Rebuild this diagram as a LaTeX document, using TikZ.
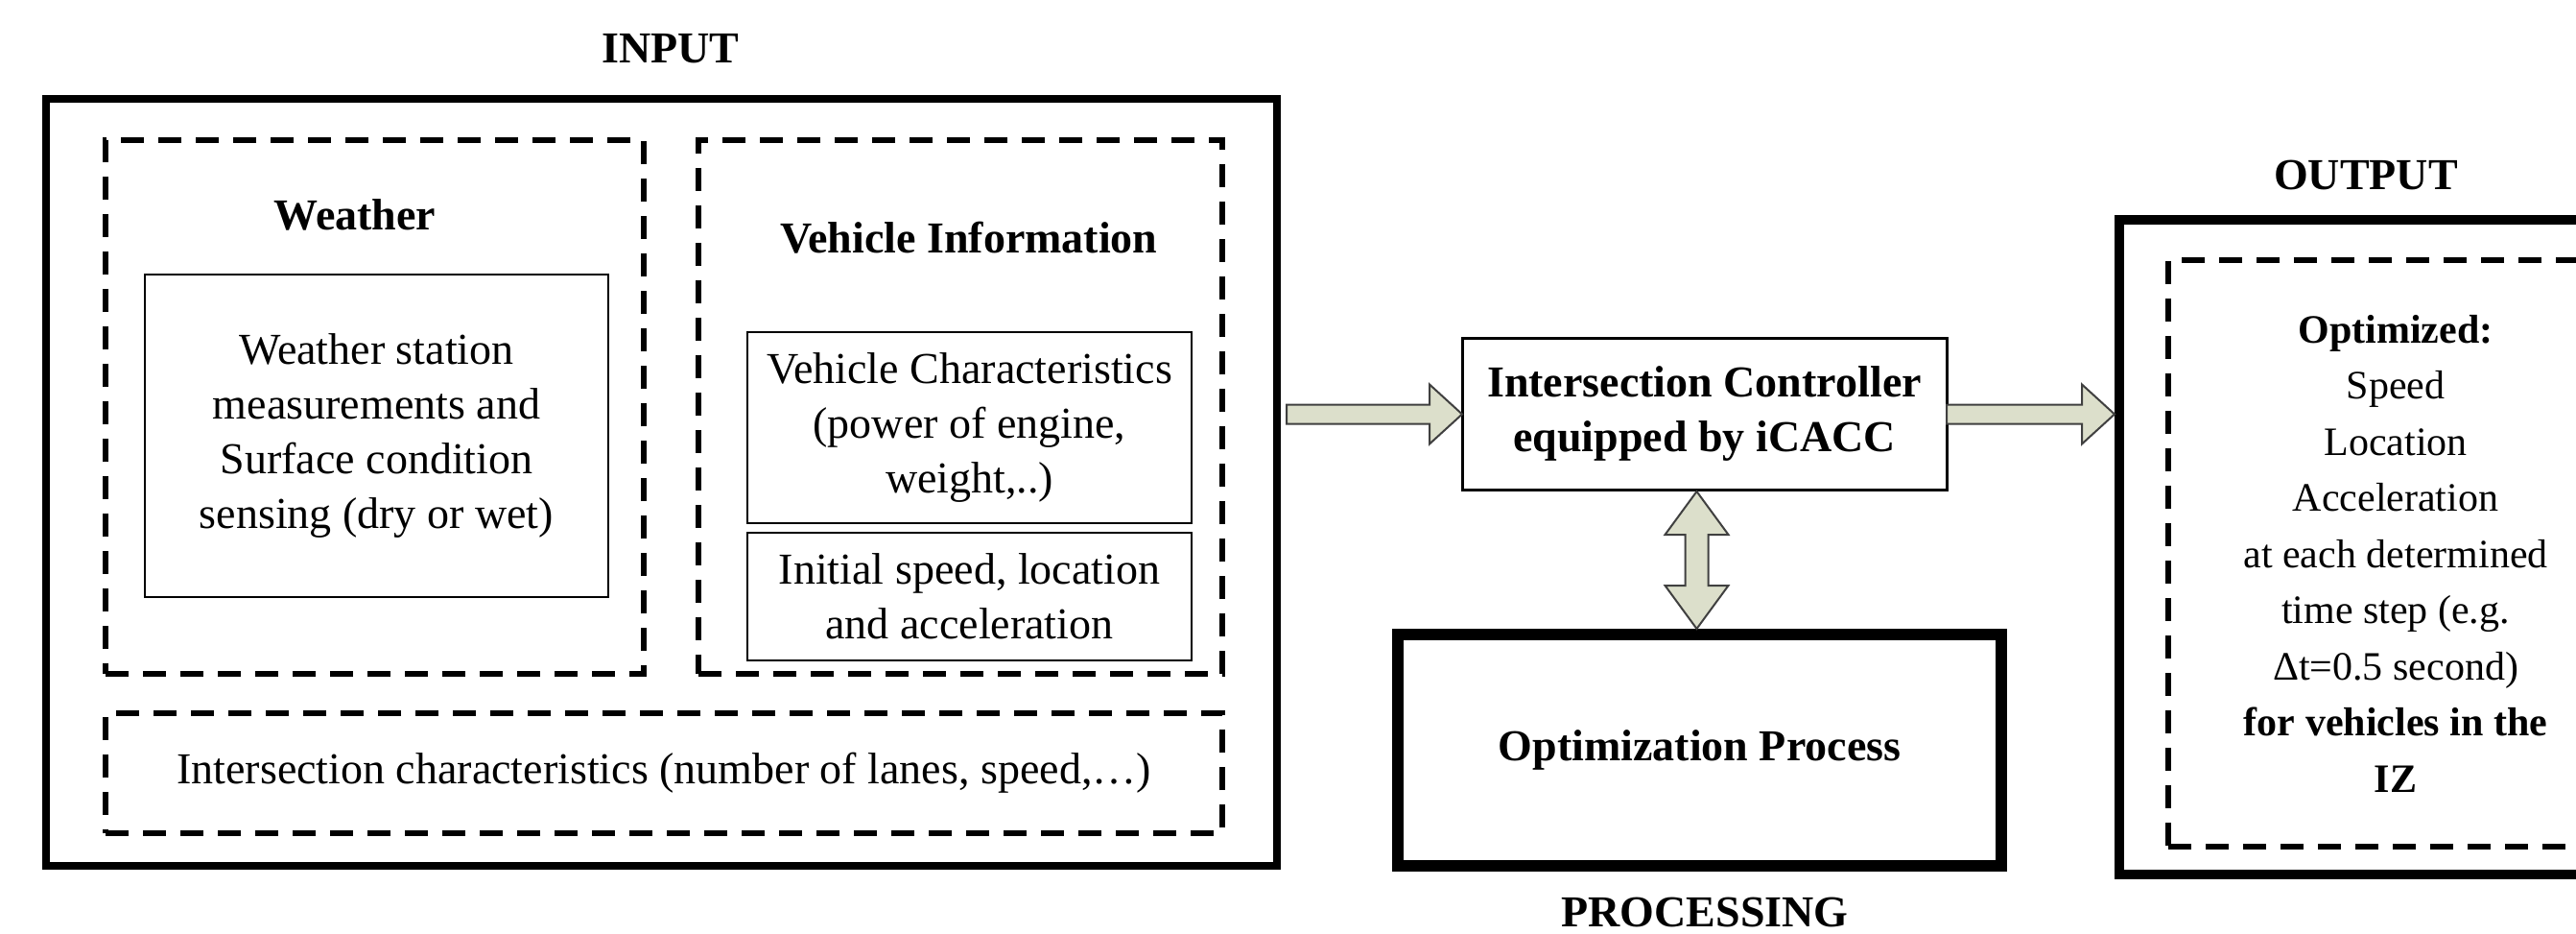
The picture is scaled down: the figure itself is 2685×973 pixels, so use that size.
\documentclass[tikz,border=0pt]{standalone}
\usepackage{fontspec}
\setmainfont{Liberation Serif}
\usetikzlibrary{calc}
\definecolor{arrowfill}{HTML}{DCDFCB}
\begin{document}
\begin{tikzpicture}[x=1pt,y=-1pt,
  box/.style={rectangle, inner sep=0pt, outer sep=0pt, align=center, font=\fontsize{46}{57}\selectfont},
  thickbox/.style={box, draw, line width=8pt},
  dbox/.style={box, draw, line width=6pt, dash pattern=on 24pt off 15pt},
  sbox/.style={box, draw, line width=2.5pt},
  boldbox/.style={box, font=\fontsize{46}{57}\selectfont\bfseries},
  title/.style={inner sep=0pt, font=\fontsize{46}{57}\selectfont\bfseries},
  outtext/.style={font=\fontsize{42}{58.5}\selectfont},
  barrow/.style={draw=black!75, fill=arrowfill, line width=2pt, line join=miter},
]
\useasboundingbox (0,0) rectangle (2685,973);
\clip (0,0) rectangle (2685,973);
\fill[white] (0,0) rectangle (2685,973);

% INPUT
\node[title] (inputlbl) at (699,51) {INPUT};
\node[thickbox, minimum width=1283pt, minimum height=799pt] (inbox) at (689.5,502.5) {};
\node[dbox, minimum width=561pt, minimum height=556pt] (wdash) at (390.5,424) {};
\node[title] (wlbl) at (370,224) {Weather};
\node[sbox, minimum width=483pt, minimum height=336pt] (wbox) at (392.5,454)
  {Weather station\\measurements and\\Surface condition\\sensing (dry or wet)};
\node[dbox, minimum width=546pt, minimum height=556pt] (vdash) at (1001,424) {};
\node[title] (vlbl) at (1010,248) {Vehicle Information};
\node[sbox, minimum width=463pt, minimum height=199pt] (vcbox) at (1010.5,445.5)
  {Vehicle Characteristics\\(power of engine,\\weight,..)};
\node[sbox, minimum width=463pt, minimum height=133pt] (isbox) at (1010.5,621.5)
  {Initial speed, location\\and acceleration};
\node[dbox, minimum width=1164pt, minimum height=125pt] (idash) at (692,805.5)
  {Intersection characteristics (number of lanes, speed,…)};

% PROCESSING
\node[sbox, boldbox, draw, line width=3pt, minimum width=505pt, minimum height=157pt] (ctrl) at (1776.5,431.5)
  {Intersection Controller\\equipped by iCACC};
\node[boldbox, draw, line width=12pt, minimum width=629pt, minimum height=241pt] (opt) at (1771.5,781.5)
  {Optimization Process};
\node[title] (proclbl) at (1777,950) {PROCESSING};

% OUTPUT
\node[title] (outlbl) at (2466,182) {OUTPUT};
\node[box, draw, line width=10pt, minimum width=576pt, minimum height=682pt] (outbox) at (2497,570) {};
\node[dbox, outtext, minimum width=474pt, minimum height=611pt] (odash) at (2497,576.5)
  {\textbf{Optimized:}\\Speed\\Location\\Acceleration\\at each determined\\time step (e.g.\\Δt=0.5 second)\\\textbf{for vehicles in the}\\\textbf{IZ}};

% arrows
\coordinate (a1t) at ($(inbox.east |- ctrl.west)+(10,0)$);
\coordinate (a1h) at (ctrl.west);
\draw[barrow] ($(a1t)+(0,-10)$) -- ($(a1h)+(-34,-10)$) -- ($(a1h)+(-34,-31)$) -- (a1h)
  -- ($(a1h)+(-34,31)$) -- ($(a1h)+(-34,10)$) -- ($(a1t)+(0,10)$) -- cycle;

\coordinate (a2t) at (ctrl.east);
\coordinate (a2h) at ($(outbox.west |- ctrl.east)+(-5,0)$);
\draw[barrow] ($(a2t)+(0,-10)$) -- ($(a2h)+(-34,-10)$) -- ($(a2h)+(-34,-31)$) -- (a2h)
  -- ($(a2h)+(-34,31)$) -- ($(a2h)+(-34,10)$) -- ($(a2t)+(0,10)$) -- cycle;

\coordinate (d1) at ($(ctrl.south)+(-8,2)$);
\coordinate (d2) at ($(d1 |- opt.north)+(0,-6)$);
\draw[barrow] (d1) -- ($(d1)+(33,45)$) -- ($(d1)+(12,45)$) -- ($(d2)+(12,-45)$) -- ($(d2)+(33,-45)$)
  -- (d2) -- ($(d2)+(-33,-45)$) -- ($(d2)+(-12,-45)$) -- ($(d1)+(-12,45)$) -- ($(d1)+(-33,45)$) -- cycle;
\end{tikzpicture}
\end{document}
